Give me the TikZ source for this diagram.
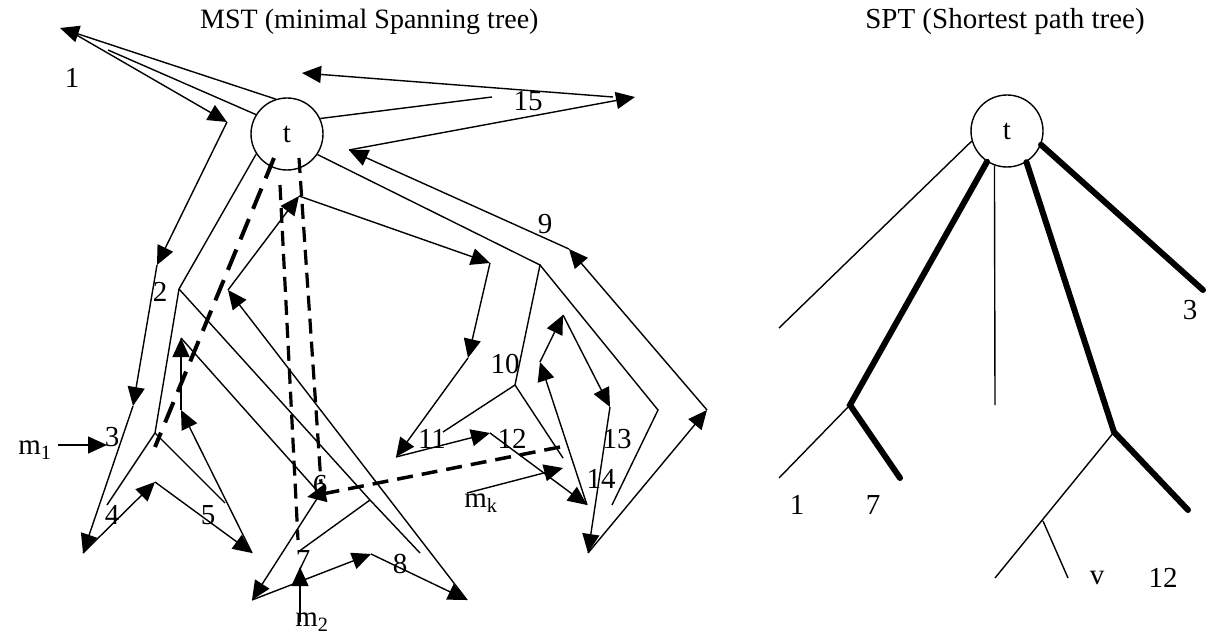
\documentclass[tikz,border=0pt]{standalone}
\usepackage{fontspec}
\setmainfont{Liberation Serif}
\usetikzlibrary{arrows.meta}

\tikzset{
  edge/.style={line width=1.4pt},
  walk/.style={line width=1.4pt,-{Triangle[length=19pt,width=17pt]}},
  heavy/.style={line width=6pt,line cap=round},
  longdash/.style={line width=4pt,dash pattern=on 22pt off 11pt},
  shortdash/.style={line width=3.2pt,dash pattern=on 15pt off 8pt},
  jump/.style={line width=3.5pt,dash pattern=on 16pt off 9pt,-{Triangle[length=19pt,width=17pt]}},
  root/.style={circle,draw,line width=1.4pt,minimum size=72pt,inner sep=0pt}
}

\begin{document}
\begin{tikzpicture}[x=1pt,y=-1pt,font=\fontsize{29}{34}\selectfont]
\useasboundingbox (0,0) rectangle (1214,636);

\node[font=\fontsize{28}{33}\selectfont,anchor=west,inner sep=0pt] (mst) at (200,22) {MST (minimal Spanning tree)};
\node (spt) at (1005,22) {SPT (Shortest path tree)};

% MST
\node[root] (t) at (287,134) {t};

\coordinate (l1) at (108,50);
\coordinate (l15) at (492,97);
\coordinate (n9) at (540,265);
\coordinate (n10) at (515,385);
\coordinate (n11) at (443,432);
\coordinate (n12) at (563,458);
\coordinate (n13a) at (658,410);
\coordinate (n13) at (612,505);
\coordinate (n2) at (179,289);
\coordinate (n3) at (155,433);
\coordinate (n4) at (107,505);
\coordinate (n5) at (225,503);
\coordinate (n78) at (370,500);
\coordinate (n7) at (298,552);
\coordinate (n8) at (420,553);

\draw[edge] (t.148) -- (l1);
\draw[edge] (t.25) -- (l15);
\draw[edge] (t.-34) -- (n9) -- (n10) -- (n11);
\draw[edge] (n10) -- (n12);
\draw[edge] (n9) -- (n13a) -- (n13);
\draw[edge] (t.213) -- (n2) -- (n3) -- (n4);
\draw[edge] (n3) -- (n5);
\draw[edge] (n2) -- (n78) -- (n8);
\draw[edge] (n78) -- (n7);

% the walk round the tree
\coordinate (w1) at (60,28);
\coordinate (w2) at (73,33);
\coordinate (w3) at (227,122);
\coordinate (w4) at (157,265);
\coordinate (w5) at (133,406);
\coordinate (w6) at (83,553);
\coordinate (w7) at (155,482);
\coordinate (w8) at (252,553);
\coordinate (w9) at (181,410);
\coordinate (w10) at (181,338);
\coordinate (w11) at (320,494);
\coordinate (w12) at (252,600);
\coordinate (w13) at (371,554);
\coordinate (w14) at (467,600);
\coordinate (w15) at (228,290);
\coordinate (w16) at (299,196);
\coordinate (w17) at (490,263);
\coordinate (w18) at (468,358);
\coordinate (w19) at (396,457);
\coordinate (w20) at (490,433);
\coordinate (w21) at (587,505);
\coordinate (w22) at (540,362);
\coordinate (w23) at (563,315);
\coordinate (w24) at (610,407);
\coordinate (w25) at (588,553);
\coordinate (w26) at (707,410);
\coordinate (w27) at (569,249);
\coordinate (w28) at (349,150);
\coordinate (w29) at (635,97);
\coordinate (w30) at (613,97);
\coordinate (w31) at (302,73);

\draw[walk] (t.108) -- (w1);
\draw[walk] (w2) -- (w3);
\draw[walk] (w3) -- (w4);
\draw[walk] (w4) -- (w5);
\draw[walk] (w5) -- (w6);
\draw[walk] (w6) -- (w7);
\draw[walk] (w7) -- (w8);
\draw[walk] (w8) -- (w9);
\draw[walk] (w9) -- (w10);
\draw[edge] (w10) -- (w11);
\draw[walk] (w11) -- (w12);
\draw[walk] (w12) -- (w13);
\draw[walk] (w13) -- (w14);
\draw[walk] (w14) -- (w15);
\draw[walk] (w15) -- (w16);
\draw[walk] (w16) -- (w17);
\draw[walk] (w17) -- (w18);
\draw[walk] (w18) -- (w19);
\draw[walk] (w19) -- (w20);
\draw[walk] (w20) -- (w21);
\draw[walk] (w21) -- (w22);
\draw[walk] (w22) -- (w23);
\draw[walk] (w23) -- (w24);
\draw[walk] (w24) -- (w25);
\draw[walk] (w25) -- (w26);
\draw[walk] (w26) -- (w27);
\draw[walk] (w27) -- (w28);
\draw[walk] (w28) -- (w29);
\draw[walk] (w30) -- (w31);

% shortcuts
\coordinate (d1) at (274,158);
\coordinate (d2) at (155,447);
\coordinate (d3) at (280,185);
\coordinate (d4) at (298,540);
\coordinate (d5) at (299,158);
\coordinate (d6) at (321,483);
\coordinate (d7) at (560,447);
\coordinate (d8) at (307,497);
\draw[longdash] (d1) -- (d2);
\draw[shortdash] (d3) -- (d4);
\draw[shortdash] (d5) -- (d6);
\draw[jump] (d7) -- (d8);

% messages
\coordinate (m1a) at (58,445);
\coordinate (m1b) at (107,445);
\coordinate (m2a) at (300,622);
\coordinate (m2b) at (300,567);
\coordinate (mka) at (467,493);
\coordinate (mkb) at (563,468);
\draw[walk] (m1a) -- (m1b);
\draw[walk] (m2a) -- (m2b);
\draw[walk] (mka) -- (mkb);
\node (m1) at (35,450) {m\textsubscript{1}};
\node (m2) at (312,622) {m\textsubscript{2}};
\node (mk) at (481,503) {m\textsubscript{k}};

\node (lab1) at (72,78) {1};
\node (lab2) at (160,292) {2};
\node (lab3) at (112,437) {3};
\node (lab4) at (112,515) {4};
\node (lab5) at (208,515) {5};
\node (lab6) at (320,485) {6};
\node (lab7) at (303,560) {7};
\node (lab8) at (400,564) {8};
\node (lab9) at (545,224) {9};
\node (lab10) at (505,364) {10};
\node (lab11) at (432,439) {11};
\node (lab12) at (512,439) {12};
\node (lab13) at (617,439) {13};
\node (lab14) at (601,479) {14};
\node (lab15) at (528,101) {15};

% SPT
\node[root] (s) at (1007,131) {t};
\coordinate (sa) at (779,328);
\coordinate (sb) at (850,405);
\coordinate (s1) at (779,478);
\coordinate (s7) at (900,478);
\coordinate (sc) at (995,405);
\coordinate (sd) at (1114,432);
\coordinate (s12) at (1188,510);
\coordinate (se) at (995,578);
\coordinate (sf) at (1043,521);
\coordinate (sv) at (1068,578);
\coordinate (s3) at (1203,290);

\draw[edge] (s.196) -- (sa);
\draw[heavy] (s.237) -- (sb) -- (s7);
\draw[edge] (sb) -- (s1);
\draw[edge] (s.250) -- (sc);
\draw[heavy] (s.302) -- (sd) -- (s12);
\draw[edge] (sd) -- (se);
\draw[edge] (sf) -- (sv);
\draw[heavy] (s.338) -- (s3);

\node (slab1) at (797,505) {1};
\node (slab7) at (873,505) {7};
\node (slabv) at (1097,578) {v};
\node (slab12) at (1163,578) {12};
\node (slab3) at (1190,310) {3};
\end{tikzpicture}
\end{document}
